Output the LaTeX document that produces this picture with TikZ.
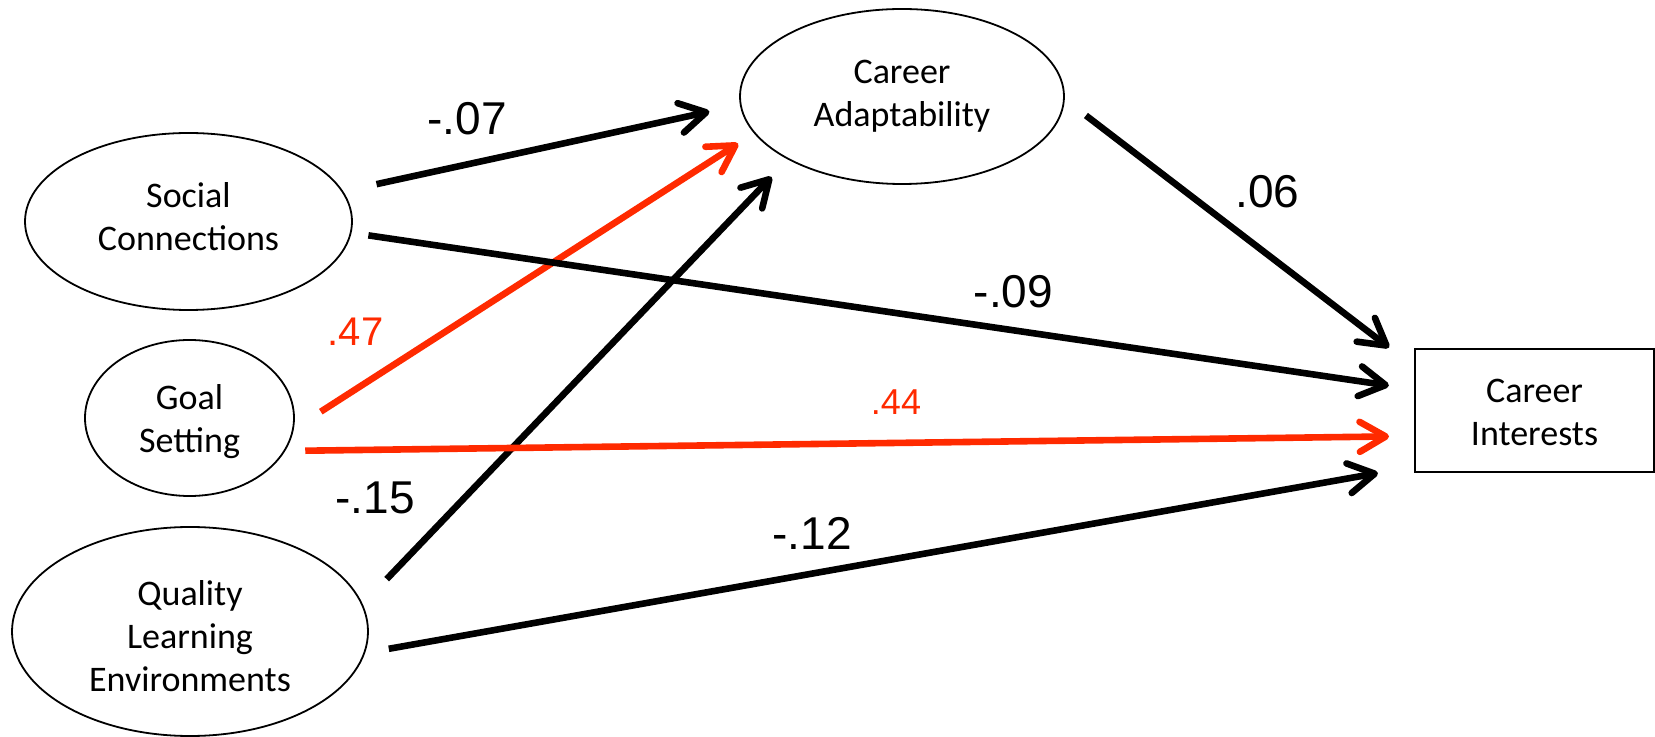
\documentclass[tikz,border=0pt]{standalone}
\usepackage{fontspec}
\setmainfont{Carlito}
\newfontfamily\labelfont{Liberation Sans}
\usetikzlibrary{shapes.geometric,arrows.meta}
\definecolor{PathRed}{HTML}{FF2A00}

\begin{document}
\begin{tikzpicture}[
    x=0.5pt, y=-0.5pt,
    latent/.style={draw, ellipse, line width=0.9pt, inner sep=0pt, align=center, font=\fontsize{18}{21.5}\selectfont},
    observed/.style={draw, rectangle, line width=1pt, inner sep=0pt, align=center, font=\fontsize{18}{21.5}\selectfont},
    effect/.style={line width=3.3pt, -{Straight Barb[length=13pt,width=15pt,round]}},
    sig/.style={effect, draw=PathRed},
    coef/.style={inner sep=0pt, font=\labelfont\fontsize{23}{23}\selectfont},
  ]
    \useasboundingbox (0,0) rectangle (1655,737);

    \node[latent, minimum width=163.5pt, minimum height=88.5pt, text depth=5pt] (sc) at (188.5,221.5) {Social\\Connections};
    \node[latent, minimum width=104.5pt, minimum height=78pt, text height=38pt] (gs) at (189.5,418) {Goal\\Setting};
    \node[latent, minimum width=178pt, minimum height=104.5pt, text height=60pt] (qle) at (190,631.5) {Quality\\Learning\\Environments};
    \node[latent, minimum width=162pt, minimum height=87.5pt] (ca) at (902,96.5) {Career\\Adaptability};
    \node[observed, minimum width=119.5pt, minimum height=61.5pt, text height=35.5pt] (ci) at (1534.5,410.5) {Career\\Interests};

    \draw[effect, shorten <=17pt, shorten >=15.6pt] (sc.11) -- (ca.183);
    \draw[sig, shorten <=16pt, shorten >=9.4pt] (gs.-6) -- (ca.194);
    \draw[effect, shorten <=17.3pt, shorten >=11.9pt] (qle.9) -- (ca.209);
    \draw[effect, shorten <=8.5pt, shorten >=12.7pt] (sc.-4) -- (ci.170);
    \draw[sig, shorten <=10pt, shorten >=12.5pt] (gs.-19) -- (ci.192);
    \draw[effect, shorten <=12pt, shorten >=18.3pt] (qle.-7) -- (ci.205);
    \draw[effect, shorten <=13.3pt, shorten >=15.7pt] (ca.-1) -- (ci.160);

    \node[coef] (c07) at (467,118.5) {-.07};
    \node[coef, text=PathRed, font=\labelfont\fontsize{20}{20}\selectfont] (c47) at (355.5,332) {.47};
    \node[coef] (c15) at (375,497.5) {-.15};
    \node[coef] (c09) at (1013.5,291.5) {-.09};
    \node[coef, text=PathRed, font=\labelfont\fontsize{18}{18}\selectfont] (c44) at (896,402) {.44};
    \node[coef] (c12) at (812,533.5) {-.12};
    \node[coef] (c06) at (1267.5,191.5) {.06};
  \end{tikzpicture}
\end{document}
